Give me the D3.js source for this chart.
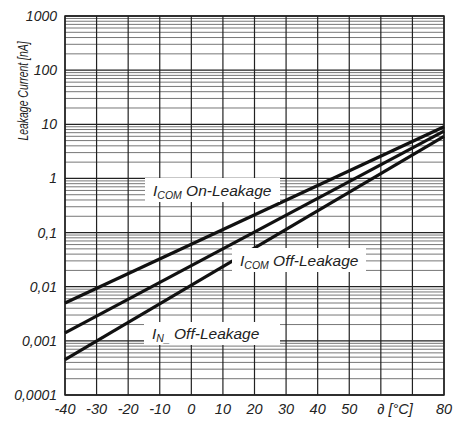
<!DOCTYPE html>
<html>
<head>
<meta charset="utf-8">
<script src="https://cdn.jsdelivr.net/npm/d3@7"></script>
<style>
  body { margin: 0; background: #fff; }
  text { font-family: "Liberation Sans", Arial, sans-serif; font-style: italic; fill: #222; }
</style>
</head>
<body>
<div class="chart"></div>
<script>
let FRAME_WIDTH = 455;
let FRAME_HEIGHT = 422;
let MARGINS = {left: 65, right: 11, top: 16, bottom: 27};

// data
let temps = [-40, 80];
let onLeak = [0.005, 9];
let comOffLeak = [0.0014, 7.5];
let nOffLeak = [0.00045, 6];

let xTicks = [-40, -30, -20, -10, 0, 10, 20, 30, 40, 50, 80];
let yTicks = [0.0001, 0.001, 0.01, 0.1, 1, 10, 100, 1000];
let yTickLabels = ["0,0001", "0,001", "0,01", "0,1", "1", "10", "100", "1000"];

let FRAME = d3.select(".chart")
              .append("svg")
              .attr("width", FRAME_WIDTH)
              .attr("height", FRAME_HEIGHT);

let PLOT_W = FRAME_WIDTH - MARGINS.left - MARGINS.right;
let PLOT_H = FRAME_HEIGHT - MARGINS.top - MARGINS.bottom;

const X_SCALE = d3.scaleLinear().domain([-40, 80]).range([MARGINS.left, MARGINS.left + PLOT_W]);
const Y_SCALE = d3.scaleLog().domain([0.0001, 1000]).range([MARGINS.top + PLOT_H, MARGINS.top]);

// horizontal grid (minor + decade)
let minor = [];
for (let e = -4; e < 3; e++) {
  for (let m = 2; m <= 9; m++) minor.push(m * Math.pow(10, e));
}
FRAME.append("g").selectAll("line")
  .data(minor).enter().append("line")
    .attr("x1", X_SCALE(-40)).attr("x2", X_SCALE(80))
    .attr("y1", d => Y_SCALE(d)).attr("y2", d => Y_SCALE(d))
    .attr("stroke", "#777").attr("stroke-width", 1);

FRAME.append("g").selectAll("line")
  .data(yTicks).enter().append("line")
    .attr("x1", X_SCALE(-40)).attr("x2", X_SCALE(80))
    .attr("y1", d => Y_SCALE(d)).attr("y2", d => Y_SCALE(d))
    .attr("stroke", "#222").attr("stroke-width", 1.3);

// vertical grid
FRAME.append("g").selectAll("line")
  .data(d3.range(-40, 81, 10)).enter().append("line")
    .attr("x1", d => X_SCALE(d)).attr("x2", d => X_SCALE(d))
    .attr("y1", Y_SCALE(0.0001)).attr("y2", Y_SCALE(1000))
    .attr("stroke", "#222").attr("stroke-width", 1.2);

// frame
FRAME.append("rect")
  .attr("x", MARGINS.left).attr("y", MARGINS.top)
  .attr("width", PLOT_W).attr("height", PLOT_H)
  .attr("fill", "none").attr("stroke", "#222").attr("stroke-width", 1.5);

// curves
let line = d3.line().x(d => X_SCALE(d[0])).y(d => Y_SCALE(d[1]));
[onLeak, comOffLeak, nOffLeak].forEach(s => {
  FRAME.append("path")
    .datum(temps.map((t, i) => [t, s[i]]))
    .attr("d", line)
    .attr("fill", "none")
    .attr("stroke", "#111")
    .attr("stroke-width", 3.2);
});

// labels with white boxes
function label(x, y, w, h, main, sub, rest) {
  FRAME.append("rect").attr("x", x).attr("y", y).attr("width", w).attr("height", h).attr("fill", "#fff");
  let t = FRAME.append("text").attr("x", x + 8).attr("y", y + h - 6).attr("font-size", 15.5);
  t.append("tspan").text(main);
  t.append("tspan").attr("font-size", 10.5).attr("dy", 3).text(sub);
  t.append("tspan").attr("dy", -3).text(rest);
}
label(145, 178, 135, 24, "I", "COM", " On-Leakage");
label(232, 248, 134, 24, "I", "COM", " Off-Leakage");
label(144, 322, 136, 23, "I", "N_", " Off-Leakage");

// y tick labels
FRAME.append("g").selectAll("text")
  .data(yTicks).enter().append("text")
    .attr("x", MARGINS.left - 8)
    .attr("y", d => Y_SCALE(d) + 5)
    .attr("text-anchor", "end")
    .attr("font-size", 14)
    .text((d, i) => yTickLabels[i]);

// x tick labels
FRAME.append("g").selectAll("text")
  .data(xTicks).enter().append("text")
    .attr("x", d => X_SCALE(d))
    .attr("y", 414)
    .attr("text-anchor", "middle")
    .attr("font-size", 14.5)
    .text(d => d);

FRAME.append("text")
  .attr("x", X_SCALE(64.5)).attr("y", 414)
  .attr("text-anchor", "middle").attr("font-size", 14.5)
  .text("\u2202 [\u00b0C]");

// y axis title (condensed)
FRAME.append("text")
  .attr("transform", "translate(28,91) rotate(-90) scale(0.72,1)")
  .attr("text-anchor", "middle")
  .attr("font-size", 14.5)
  .text("Leakage Current [nA]");
</script>
</body>
</html>
